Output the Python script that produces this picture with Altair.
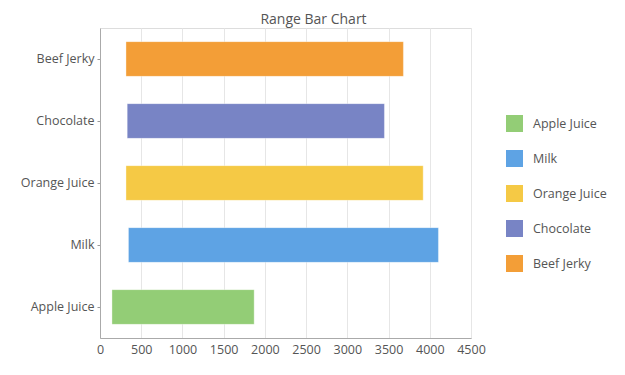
import altair as alt
import pandas as pd

categories = ["Apple Juice", "Milk", "Orange Juice", "Chocolate", "Beef Jerky"]
low_values = [145, 345, 315, 330, 315]
high_values = [1870, 4105, 3920, 3450, 3680]
colors = ["#93CD76", "#5EA3E4", "#F5C945", "#7884C5", "#F39E37"]
x_ticks = [0, 500, 1000, 1500, 2000, 2500, 3000, 3500, 4000, 4500]

df = pd.DataFrame({"item": categories, "low": low_values, "high": high_values})

FONT = "Open Sans"
TXT = "#555555"

bars = alt.Chart(df).mark_bar(strokeWidth=1, strokeOpacity=0.35, stroke="white").encode(
    y=alt.Y("item:N", sort=categories[::-1], title=None,
            scale=alt.Scale(paddingInner=0.44, paddingOuter=0.22),
            axis=alt.Axis(labelFont=FONT, labelFontSize=12.5, labelColor=TXT,
                          tickSize=3, tickColor="#999999", domainColor="#aaaaaa",
                          labelPadding=3, grid=False)),
    x=alt.X("low:Q", title=None,
            scale=alt.Scale(domain=[0, 4500], nice=False),
            axis=alt.Axis(values=x_ticks, format="d", labelFont=FONT, labelFontSize=12.5,
                          labelColor=TXT, ticks=False, domainColor="#aaaaaa",
                          gridColor="#e6e6e6", labelPadding=5, labelFlush=False)),
    x2="high:Q",
    color=alt.Color("item:N", sort=categories,
                    scale=alt.Scale(domain=categories, range=colors),
                    legend=alt.Legend(title=None, orient="none", legendX=406, legendY=87,
                                      symbolType="square", symbolSize=289,
                                      symbolStrokeWidth=0, symbolOpacity=1,
                                      labelFont=FONT, labelFontSize=12.5, labelColor=TXT,
                                      labelOffset=10, rowPadding=18)),
)

chart = bars.properties(
    width=371,
    height=310,
    title=alt.TitleParams("Range Bar Chart", font=FONT, fontSize=14, color=TXT,
                          fontWeight="normal", anchor="middle", offset=1, dx=28),
    autosize=alt.AutoSizeParams(type="none"),
    padding={"left": 92, "top": 20, "right": 146, "bottom": 30},
).configure_view(stroke=None).configure(background="white")

chart.save("out.html", embed_options={"renderer": "svg", "actions": False})
